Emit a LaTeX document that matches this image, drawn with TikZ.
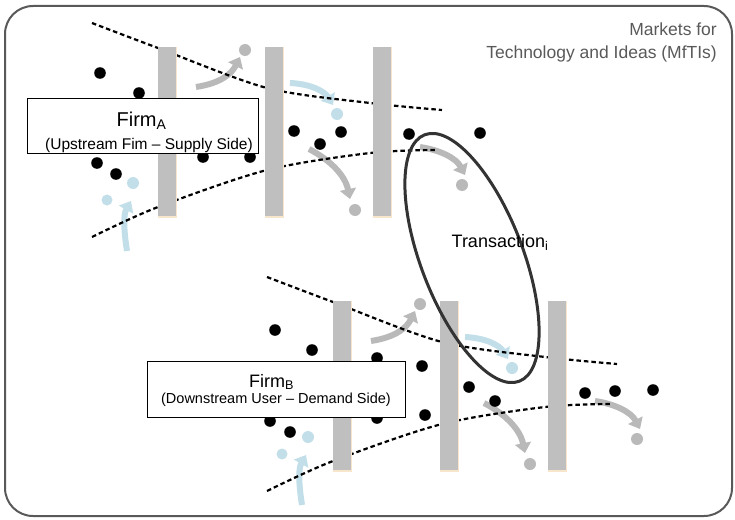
\documentclass[tikz,border=0pt]{standalone}
\usepackage{fontspec}
\setmainfont{Liberation Sans}
\usetikzlibrary{arrows.meta,positioning,shapes.geometric}
\definecolor{bargray}{HTML}{BFBFBF}
\definecolor{bartan}{HTML}{F8E6CC}
\definecolor{framegray}{HTML}{595959}
\definecolor{flowgray}{HTML}{B9B9B9}
\definecolor{flowblue}{HTML}{C2DFE9}

\begin{document}
\begin{tikzpicture}[x=1pt,y=-1pt,
    wall/.style={fill=bargray},
    lane/.style={line width=2.2pt, dash pattern=on 4.5pt off 3pt},
    drift/.style={line width=6pt, -{Triangle[length=10pt,width=16pt]}},
    idea/.style={fill=black},
    firmbox/.style={draw=black, line width=1pt, fill=white, inner sep=0pt}]
  \useasboundingbox (0,0) rectangle (735,519);
  \draw[framegray, line width=2pt, rounded corners=28pt] (5,6) rectangle (732,516);

  % the two value chains (upstream, then downstream)
  \foreach \dx/\dy in {0/0,175/254}{
    \begin{scope}[shift={(\dx,\dy)}]
      \draw[drift, flowgray] (196,87) .. controls (222,83) and (232,73) .. (240,57);
      \fill[flowgray] (245,50) circle (6);
      \draw[drift, flowblue] (290,83) .. controls (312,84) and (325,92) .. (333,105);
      \fill[flowblue] (337,114) circle (6);
      \draw[drift, flowgray] (309,149) .. controls (330,160) and (345,175) .. (350,199);
      \fill[flowgray] (355,210) circle (6);
      \draw[drift, flowblue] (127,251) .. controls (124,232) and (123,215) .. (131,201);
      \fill[flowblue] (133,183) circle (6);
      \fill[flowblue] (107,200) circle (5.5);
      \draw[drift, flowgray] (420,147) .. controls (440,150) and (456,158) .. (465,175);
      \fill[flowgray] (462,185) circle (6);

      \draw[lane] plot[smooth] coordinates {(92,23) (158,48) (267,88) (370,103) (442,110)};
      \draw[lane] plot[smooth] coordinates {(92,237) (158,207) (267,170) (370,153) (435,150)};

      \foreach \x in {158,265,373}{
        \fill[bartan] (\x,47) rectangle ++(19,171);
        \fill[wall] (\x,47) rectangle ++(18,169);
      }
    \end{scope}
  }

  \foreach \p in {(100,73),(139,93),(203,157),(250,157),(97,163),(116,174),
                  (294,131),(320,144),(341,132),(409,134),(480,133)}
    \fill[idea] \p circle (5.8);
  \foreach \p in {(275,330),(312,350),(377,358),(422,366),(377,418),(425,415),(270,421),
                  (290,432),(469,387),(495,401),(585,393),(615,391),(653,390)}
    \fill[idea] \p circle (5.8);

  % firms
  \node[firmbox, minimum width=231, minimum height=55] (firmA) at (142.5,125.5) {};
  \node[anchor=base, inner sep=0pt, font=\fontsize{20}{24}\selectfont] (firmAname) at (141.5,126) {Firm\textsubscript{A}};
  \node[anchor=base, inner sep=0pt, font=\fontsize{15.5}{18}\selectfont] (firmAside) at (149,149) {(Upstream Fim -- Supply Side)};

  \node[firmbox, minimum width=258, minimum height=56] (firmB) at (276,389) {};
  \node[anchor=base, inner sep=0pt, font=\fontsize{18}{22}\selectfont] (firmBname) at (271.5,387) {Firm\textsubscript{B}};
  \node[anchor=base, inner sep=0pt, font=\fontsize{14.5}{17}\selectfont] (firmBside) at (276,403) {(Downstream User -- Demand Side)};

  % market label
  \node[anchor=base east, inner sep=0pt, framegray, font=\fontsize{17.5}{20}\selectfont] (mkt) at (717,36) {Markets for};
  \node[anchor=base east, inner sep=0pt, framegray, font=\fontsize{17.5}{20}\selectfont] (mfti) at (717,58) {Technology and Ideas (MfTIs)};

  % transaction
  \node[draw=black!80, line width=3pt, ellipse, minimum width=264, minimum height=102, rotate=-69] (deal) at (472,258) {};
  \node[anchor=base, inner sep=0pt, font=\fontsize{18}{22}\selectfont] (dealname) at (500,247) {Transaction\textsubscript{i}};
\end{tikzpicture}
\end{document}
